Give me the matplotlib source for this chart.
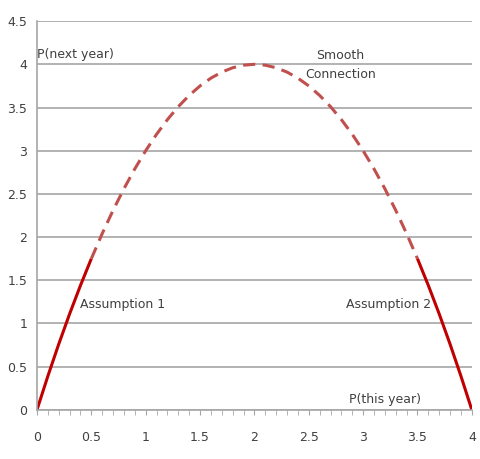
import numpy as np
import matplotlib.pyplot as plt

# =====================
# Data
# =====================
p_this_year = [0.0, 0.1, 0.2, 0.3, 0.4, 0.5, 0.6, 0.7, 0.8, 0.9, 1.0,
               1.1, 1.2, 1.3, 1.4, 1.5, 1.6, 1.7, 1.8, 1.9, 2.0,
               2.1, 2.2, 2.3, 2.4, 2.5, 2.6, 2.7, 2.8, 2.9, 3.0,
               3.1, 3.2, 3.3, 3.4, 3.5, 3.6, 3.7, 3.8, 3.9, 4.0]
p_next_year = [0.0, 0.39, 0.76, 1.11, 1.44, 1.75, 2.04, 2.31, 2.56, 2.79, 3.0,
               3.19, 3.36, 3.51, 3.64, 3.75, 3.84, 3.91, 3.96, 3.99, 4.0,
               3.99, 3.96, 3.91, 3.84, 3.75, 3.64, 3.51, 3.36, 3.19, 3.0,
               2.79, 2.56, 2.31, 2.04, 1.75, 1.44, 1.11, 0.76, 0.39, 0.0]

x_ticks = [0, 0.5, 1, 1.5, 2, 2.5, 3, 3.5, 4]
x_tick_labels = ["0", "0.5", "1", "1.5", "2", "2.5", "3", "3.5", "4"]
y_ticks = [0, 0.5, 1, 1.5, 2, 2.5, 3, 3.5, 4, 4.5]
y_tick_labels = ["0", "0.5", "1", "1.5", "2", "2.5", "3", "3.5", "4", "4.5"]

x = np.array(p_this_year)
y = np.array(p_next_year)

SOLID = "#c00000"
DASHED = "#c0504d"
GRID = "#a6a6a6"
TEXT = "#404040"

fig = plt.figure(figsize=(4.8, 4.59), dpi=100)
ax = fig.add_axes([0.077, 0.107, 0.906, 0.847])

left = x <= 0.5
mid = (x >= 0.5) & (x <= 3.5)
right = x >= 3.5
ax.plot(x[left], y[left], color=SOLID, lw=2.2, solid_capstyle="butt")
ax.plot(x[mid], y[mid], color=DASHED, lw=2.2, dashes=(4.0, 2.4), dash_capstyle="butt")
ax.plot(x[right], y[right], color=SOLID, lw=2.2, solid_capstyle="butt")

ax.set_xlim(0, 4)
ax.set_ylim(0, 4.5)
ax.set_xticks(x_ticks, x_tick_labels)
ax.set_xticks(np.arange(0, 4.01, 0.1), minor=True)
ax.set_yticks(y_ticks, y_tick_labels)
ax.grid(axis="y", color=GRID, lw=1.2)
ax.set_axisbelow(True)
for s in ("top", "right"):
    ax.spines[s].set_visible(False)
for s in ("left", "bottom"):
    ax.spines[s].set_color(GRID)
    ax.spines[s].set_linewidth(1.2)
ax.tick_params(axis="y", length=0, labelsize=9, colors=TEXT, pad=7)
ax.tick_params(axis="x", which="major", length=3.5, color=GRID, labelsize=9, labelcolor=TEXT, pad=12)
ax.tick_params(axis="x", which="minor", length=3.5, color=GRID)

txt = dict(fontsize=9, color=TEXT)
ax.text(0.0, 4.04, "P(next year)", ha="left", va="bottom", **txt)
ax.text(2.79, 3.99, "Smooth\nConnection", ha="center", va="center", linespacing=1.6, **txt)
ax.text(0.4, 1.22, "Assumption 1", ha="left", va="center", **txt)
ax.text(3.63, 1.22, "Assumption 2", ha="right", va="center", **txt)
ax.text(3.2, 0.04, "P(this year)", ha="center", va="bottom", **txt)

fig.savefig("out.png", dpi=100)
